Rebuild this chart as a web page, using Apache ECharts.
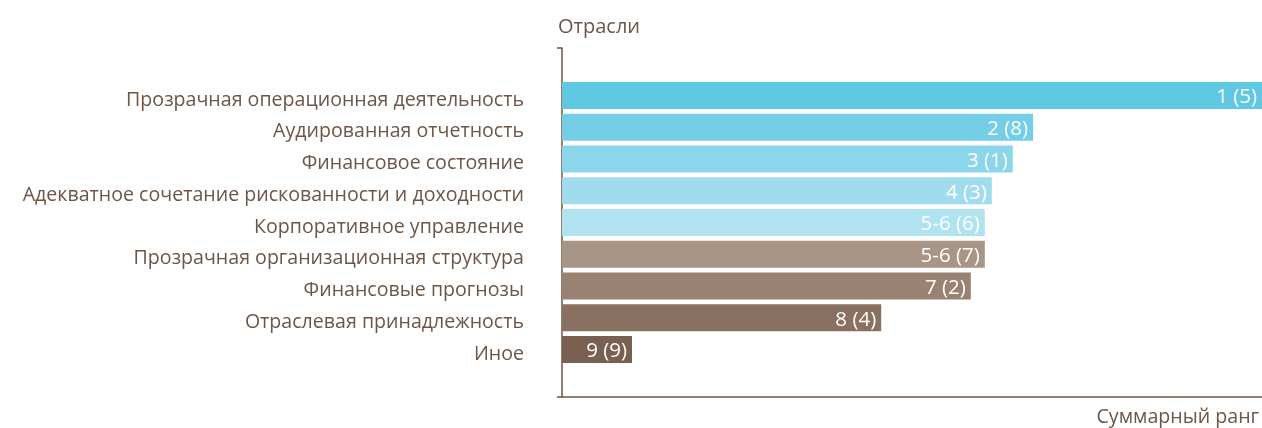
<!DOCTYPE html>
<html>
<head>
<meta charset="utf-8">
<script src="https://cdn.jsdelivr.net/npm/echarts@6/dist/echarts.min.js"></script>
<style>
  html, body { margin: 0; padding: 0; background: #ffffff; }
  #chart { width: 1262px; height: 428px; }
</style>
</head>
<body>
<div id="chart"></div>
<script>
// Factors, top to bottom (blank rows pad the axis above and below)
const categories = [
  '',
  'Прозрачная операционная деятельность',
  'Аудированная отчетность',
  'Финансовое состояние',
  'Адекватное сочетание рискованности и доходности',
  'Корпоративное управление',
  'Прозрачная организационная структура',
  'Финансовые прогнозы',
  'Отраслевая принадлежность',
  'Иное',
  ''
];
// Summary score per factor
const values = [null, 100, 67.3, 64.4, 61.4, 60.4, 60.4, 58.4, 45.6, 10.0, null];
// Rank text shown on each bar
const rankLabels = ['', '1 (5)', '2 (8)', '3 (1)', '4 (3)', '5-6 (6)', '5-6 (7)', '7 (2)', '8 (4)', '9 (9)', ''];
// Bar fills
const barColors = [
  '#5fc9e4', '#5fc9e4', '#74cfe6', '#8bd6ea', '#a0dced', '#b1e2f0',
  '#a99586', '#998272', '#8a7060', '#7a6050', '#7a6050'
];

const textColor = '#6e5545';
const fontFamily = '"Open Sans", "Noto Sans", sans-serif';

const chart = echarts.init(document.getElementById('chart'));
chart.setOption({
  animation: false,
  textStyle: { fontFamily: fontFamily },
  title: [
    {
      text: 'Отрасли',
      left: 553, top: 12,
      textStyle: { color: textColor, fontSize: 20, fontWeight: 'normal', fontFamily: fontFamily }
    },
    {
      text: 'Суммарный ранг',
      right: -2, top: 402,
      textStyle: { color: textColor, fontSize: 19.6, fontWeight: 'normal', fontFamily: fontFamily }
    }
  ],
  grid: { left: 562, right: 0, top: 48, bottom: 31, containLabel: false },
  xAxis: {
    type: 'value',
    min: 0, max: 100,
    axisLine: { show: true, onZero: false, lineStyle: { color: textColor, width: 1.5 } },
    axisTick: { show: false },
    axisLabel: { show: false },
    splitLine: { show: false }
  },
  yAxis: {
    type: 'category',
    inverse: true,
    data: categories,
    axisLine: { show: true, lineStyle: { color: textColor, width: 1.5 } },
    axisTick: {
      show: true, length: 5,
      lineStyle: { color: textColor, width: 1.5 },
      interval: (index) => index === 0
    },
    axisLabel: {
      fontFamily: fontFamily, interval: 0, margin: 38,
      formatter: (v) => '{c|' + v + '}',
      rich: {
        c: { color: textColor, fontSize: 19.6, fontFamily: fontFamily, padding: [9, 0, 0, 0] }
      }
    },
    splitLine: { show: false }
  },
  series: [{
    type: 'bar',
    data: values.map((v, i) => ({ value: v, itemStyle: { color: barColors[i] } })),
    barWidth: 27,
    label: {
      show: true,
      position: 'insideRight',
      distance: 5,
      formatter: (p) => '{r|' + rankLabels[p.dataIndex] + '}',
      rich: {
        r: { color: '#ffffff', fontSize: 20.5, fontFamily: fontFamily, padding: [4, 0, 0, 0] }
      }
    }
  }]
});
</script>
</body>
</html>
